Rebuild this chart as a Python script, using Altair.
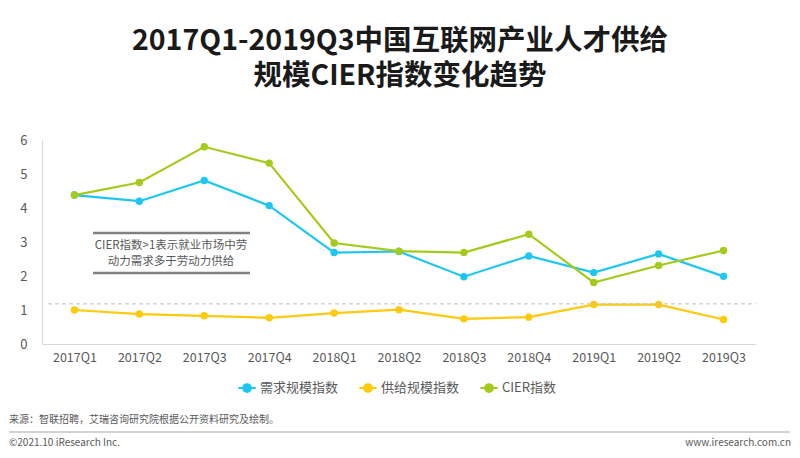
import altair as alt
import pandas as pd

# ---- data ----
quarters = ["2017Q1", "2017Q2", "2017Q3", "2017Q4", "2018Q1", "2018Q2",
            "2018Q3", "2018Q4", "2019Q1", "2019Q2", "2019Q3"]
demand = [4.38, 4.20, 4.81, 4.07, 2.69, 2.72, 1.98, 2.59, 2.10, 2.65, 1.99]
supply = [1.00, 0.88, 0.83, 0.77, 0.91, 1.01, 0.74, 0.79, 1.16, 1.16, 0.72]
cier = [4.38, 4.75, 5.80, 5.32, 2.97, 2.73, 2.69, 3.23, 1.81, 2.31, 2.75]
series_names = ["需求规模指数", "供给规模指数", "CIER指数"]
series_colors = ["#1EC6F2", "#FFC90E", "#A6CA1C"]
threshold = [1.18]
y_ticks = [0, 1, 2, 3, 4, 5, 6]

title_line1 = "2017Q1-2019Q3中国互联网产业人才供给"
title_line2 = "规模CIER指数变化趋势"
note_lines = ["CIER指数>1表示就业市场中劳", "动力需求多于劳动力供给"]
source_text = "来源：智联招聘，艾瑞咨询研究院根据公开资料研究及绘制。"
copyright_text = "©2021.10 iResearch Inc."
site_text = "www.iresearch.com.cn"

FONT = "Noto Sans CJK SC"
GRAY = "#595959"

rows = []
for name, vals in zip(series_names, [demand, supply, cier]):
    for q, v in zip(quarters, vals):
        rows.append({"quarter": q, "series": name, "value": v})
df = pd.DataFrame(rows)

W, H = 714, 204

sym_path = "M-1,0H1M0.45,0A0.45,0.45,0,1,1,-0.45,0A0.45,0.45,0,1,1,0.45,0Z"

color = alt.Color(
    "series:N",
    scale=alt.Scale(domain=series_names, range=series_colors),
    legend=alt.Legend(
        orient="none", legendX=195, legendY=238, direction="horizontal",
        title=None, symbolType=sym_path, symbolSize=300, symbolStrokeWidth=2,
        labelFont=FONT, labelFontSize=13, labelColor=GRAY, columnPadding=16,
        labelOffset=3,
    ),
    sort=series_names,
)

x = alt.X(
    "quarter:N", sort=quarters,
    scale=alt.Scale(type="point", padding=0.5),
    axis=alt.Axis(title=None, labelAngle=0, ticks=False, domainColor="#d9d9d9",
                  labelPadding=7, labelFont=FONT, labelFontSize=12.5,
                  labelColor=GRAY),
)
y_scale = alt.Scale(domain=[0, 6], nice=False)
y_axis = alt.Axis(title=None, values=y_ticks, grid=False, ticks=False,
                  labelOverlap=False, domainColor="#d9d9d9", labelPadding=15,
                  labelFont=FONT, labelFontSize=13, labelColor=GRAY)
y = alt.Y("value:Q", scale=y_scale, axis=y_axis)

lines = alt.Chart(df).mark_line(strokeWidth=2.2).encode(x=x, y=y, color=color)
points = alt.Chart(df).mark_point(filled=True, size=55, opacity=1).encode(
    x=x, y=y, color=color)

ref = alt.Chart(pd.DataFrame({"v": threshold})).mark_rule(
    strokeDash=[4, 3], color="#bfbfbf", strokeWidth=1
).encode(y=alt.Y("v:Q", scale=y_scale, axis=y_axis),
         x=alt.value(6), x2=alt.value(W))

one = pd.DataFrame({"k": [0]})
note_top = alt.Chart(one).mark_rule(color="#808080", strokeWidth=2.5).encode(
    x=alt.value(51), x2=alt.value(208), y=alt.value(93))
note_bot = alt.Chart(one).mark_rule(color="#808080", strokeWidth=2.5).encode(
    x=alt.value(51), x2=alt.value(208), y=alt.value(133))
note_txt = alt.Chart(one).mark_text(
    text=note_lines, font=FONT, fontSize=11.5, color=GRAY, align="center",
    baseline="middle", lineHeight=16
).encode(x=alt.value(129), y=alt.value(106))

title1 = alt.Chart(one).mark_text(
    text=title_line1, font=FONT, fontSize=28.5, fontWeight="bold",
    color="#1a1a1a", align="center", baseline="middle"
).encode(x=alt.value(358), y=alt.value(-99))
title2 = alt.Chart(one).mark_text(
    text=title_line2, font=FONT, fontSize=28.5, fontWeight="bold",
    color="#1a1a1a", align="center", baseline="middle"
).encode(x=alt.value(358), y=alt.value(-64))

src = alt.Chart(one).mark_text(
    text=source_text, font=FONT, fontSize=10, color=GRAY, align="left",
    baseline="middle").encode(x=alt.value(-33), y=alt.value(280))
foot_rule = alt.Chart(one).mark_rule(color="#a6a6a6", strokeWidth=1).encode(
    x=alt.value(-33), x2=alt.value(748), y=alt.value(292))
copy_t = alt.Chart(one).mark_text(
    text=copyright_text, font=FONT, fontSize=10, color=GRAY, align="left",
    baseline="middle").encode(x=alt.value(-33), y=alt.value(303))
site_t = alt.Chart(one).mark_text(
    text=site_text, font=FONT, fontSize=10, color=GRAY, align="right",
    baseline="middle").encode(x=alt.value(749), y=alt.value(303))

chart = alt.layer(
    lines, points, ref, note_top, note_bot, note_txt, title1, title2, src,
    foot_rule, copy_t, site_t
).properties(
    width=W, height=H,
    autosize=alt.AutoSizeParams(type="none"),
    padding={"left": 34, "top": 132, "right": 36, "bottom": 106},
).configure(background="white").configure_view(stroke=None)

chart.save("out.html", embed_options={"renderer": "svg", "actions": False})
